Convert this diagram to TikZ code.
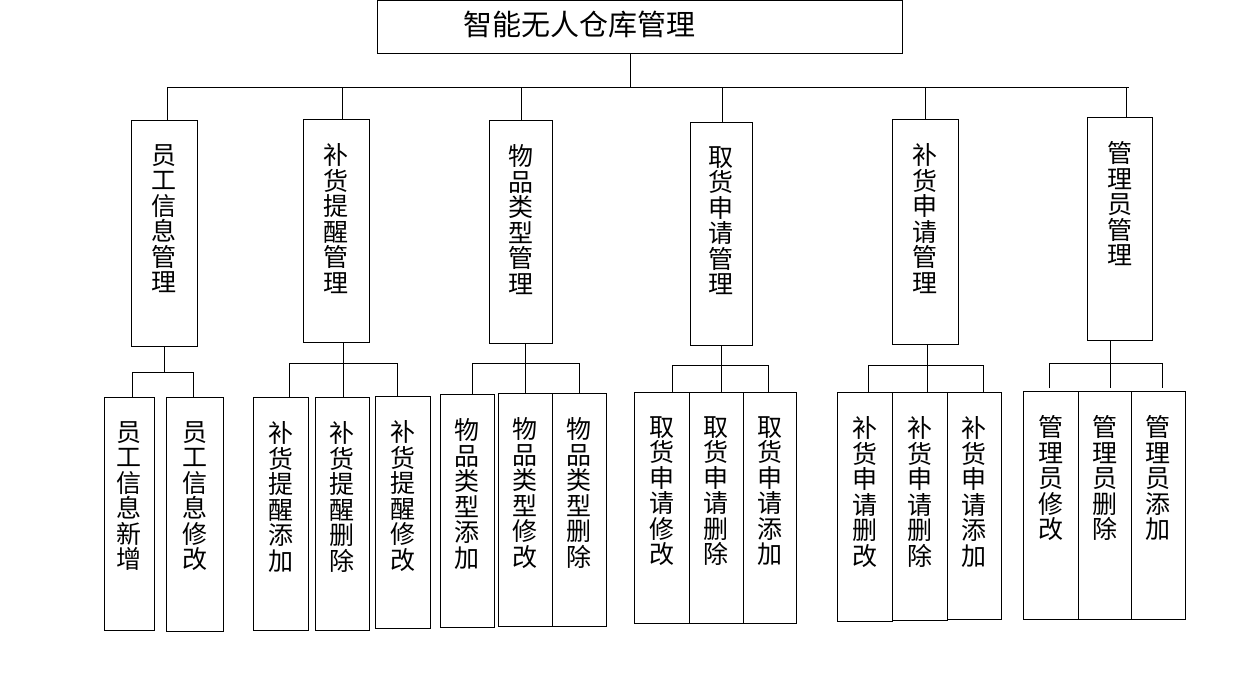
\documentclass[tikz,border=0pt]{standalone}
\usepackage{fontspec}
\newfontfamily\cjk{Noto Sans CJK SC}
\usepackage{tikz}
\usetikzlibrary{positioning}

\tikzset{
  box/.style={draw, line width=1pt, inner sep=0pt, outer sep=0pt, anchor=north west},
  vlabel/.style={align=center, inner sep=0pt, anchor=north, font=\cjk\fontsize{25}{25.5}\selectfont},
}

\begin{document}
\begin{tikzpicture}[x=1pt, y=-1pt, line width=1pt]
    \useasboundingbox (0,0) rectangle (1251,696);
    % root
    \node[box, minimum width=525pt, minimum height=53pt] (root) at (377,0) {};
    \node[font=\cjk\fontsize{29}{30}\selectfont] (title) at (579,24) {智能无人仓库管理};
    \draw (630,0 |- root.south) -- (630,87);
    \draw (167,87) -- (1129,87);
    % modules
    \foreach \name/\l/\t/\r/\b/\j/\txt in {
        m1/131/120/197/346/167/员\\工\\信\\息\\管\\理,
        m2/303/119/369/342/342/补\\货\\提\\醒\\管\\理,
        m3/489/120/552/343/521/物\\品\\类\\型\\管\\理,
        m4/690/122/752/345/722/取\\货\\申\\请\\管\\理,
        m5/892/119/958/344/925/补\\货\\申\\请\\管\\理,
        m6/1087/117/1152/340/1126/管\\理\\员\\管\\理} {
      \pgfmathsetmacro\w{\r-\l}
      \pgfmathsetmacro\h{\b-\t}
      \node[box, minimum width=\w pt, minimum height=\h pt] (\name) at (\l,\t) {};
      \node[vlabel, below=24pt of \name.north] (\name-t) {\txt};
      \draw (\j,87) -- (\j,0 |- \name.north);
    }
    % leaves
    \foreach \name/\l/\t/\r/\b/\txt in {
        a1/104/397/154/630/员\\工\\信\\息\\新\\增,
        a2/166/397/223/631/员\\工\\信\\息\\修\\改,
        b1/253/397/308/630/补\\货\\提\\醒\\添\\加,
        b2/315/397/369/630/补\\货\\提\\醒\\删\\除,
        b3/375/396/430/628/补\\货\\提\\醒\\修\\改,
        c1/440/394/494/627/物\\品\\类\\型\\添\\加,
        c2/498/393/552/626/物\\品\\类\\型\\修\\改,
        c3/552/393/606/626/物\\品\\类\\型\\删\\除,
        d1/634/392/689/623/取\\货\\申\\请\\修\\改,
        d2/689/392/743/623/取\\货\\申\\请\\删\\除,
        d3/743/392/796/623/取\\货\\申\\请\\添\\加,
        e1/837/392/892/621/补\\货\\申\\请\\删\\改,
        e2/892/392/947/620/补\\货\\申\\请\\删\\除,
        e3/947/392/1001/619/补\\货\\申\\请\\添\\加,
        f1/1023/391/1078/619/管\\理\\员\\修\\改,
        f2/1078/391/1131/619/管\\理\\员\\删\\除,
        f3/1131/391/1185/619/管\\理\\员\\添\\加} {
      \pgfmathsetmacro\w{\r-\l}
      \pgfmathsetmacro\h{\b-\t}
      \node[box, minimum width=\w pt, minimum height=\h pt] (\name) at (\l,\t) {};
      \node[vlabel, below=24pt of \name.north] (\name-t) {\txt};
    }
    % branches
    \draw (m1.south) -- (164,372);
    \draw (132,0 |- a1.north) -- (132,372) -- (193,372) -- (193,0 |- a2.north);
    \draw (343,0 |- m2.south) -- (343,0 |- b2.north);
    \draw (289,0 |- b1.north) -- (289,363) -- (397,363) -- (397,0 |- b3.north);
    \draw (525,0 |- m3.south) -- (525,0 |- c2.north);
    \draw (472,0 |- c1.north) -- (472,363) -- (579,363) -- (579,0 |- c3.north);
    \draw (721,0 |- m4.south) -- (721,0 |- d2.north);
    \draw (672,0 |- d1.north) -- (672,365) -- (768,365) -- (768,0 |- d3.north);
    \draw (927,0 |- m5.south) -- (927,0 |- e2.north);
    \draw (868,0 |- e1.north) -- (868,365) -- (983,365) -- (983,0 |- e3.north);
    \draw (1110,0 |- m6.south) -- (1110,388);
    \draw (1049,388) -- (1049,363) -- (1162,363) -- (1162,388);
\end{tikzpicture}
\end{document}
